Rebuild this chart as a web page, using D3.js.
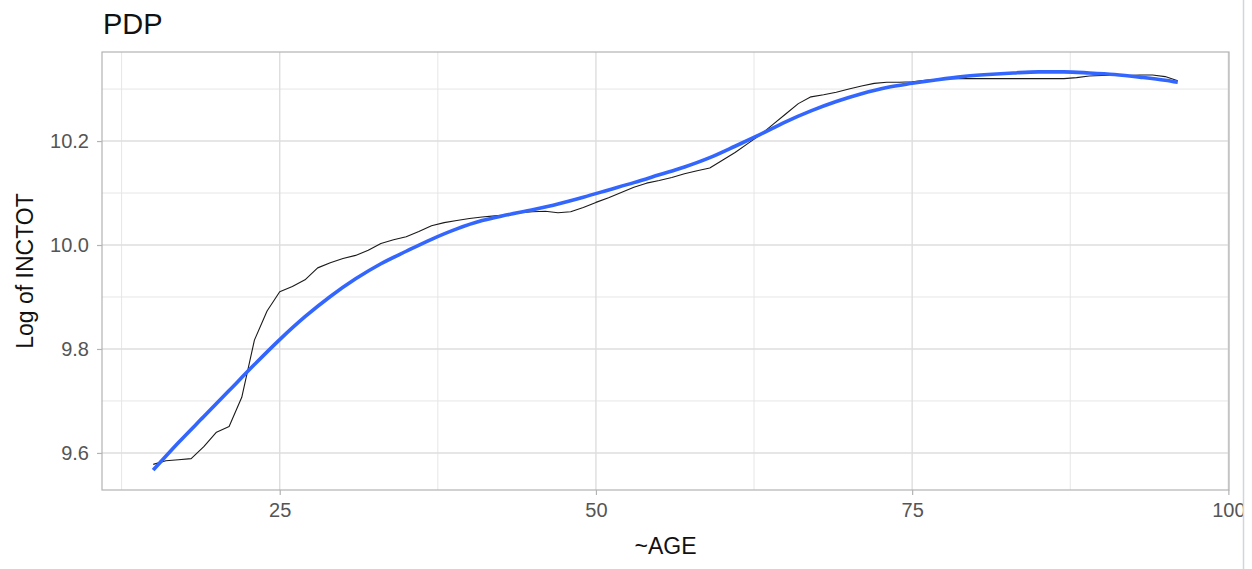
<!DOCTYPE html>
<html>
<head>
<meta charset="utf-8">
<script src="https://cdn.jsdelivr.net/npm/d3@7/dist/d3.min.js"></script>
<style>
  html, body { margin: 0; padding: 0; background: #fff; }
  svg { display: block; font-family: "Liberation Sans", Arial, sans-serif; }
</style>
</head>
<body>
<svg id="chart" width="1252" height="569"></svg>
<script>
// Partial dependence of log income on age
const ages = d3.range(15, 97);
const pdpValues = [
  9.578, 9.585, 9.587, 9.589, 9.612, 9.640, 9.651, 9.707, 9.817, 9.873,
  9.910, 9.920, 9.933, 9.956, 9.966, 9.974, 9.980, 9.990, 10.003, 10.010,
  10.016, 10.026, 10.037, 10.043, 10.047, 10.051, 10.054, 10.056, 10.058, 10.062,
  10.064, 10.065, 10.062, 10.064, 10.072, 10.082, 10.091, 10.101, 10.111, 10.119,
  10.124, 10.130, 10.137, 10.143, 10.148, 10.163, 10.178, 10.195, 10.212, 10.232,
  10.252, 10.272, 10.285, 10.289, 10.294, 10.300, 10.306, 10.311, 10.313, 10.313,
  10.314, 10.317, 10.319, 10.320, 10.320, 10.320, 10.320, 10.320, 10.320, 10.320,
  10.320, 10.320, 10.320, 10.322, 10.325, 10.326, 10.326, 10.326, 10.327, 10.327,
  10.324, 10.316
];

// Smoothed trend through the partial dependence curve
const smoothAges = [15, 17, 19, 21, 23, 25, 27, 29, 31, 33, 35, 37, 39, 41, 43, 45, 47, 49,
  51, 53, 55, 57, 59, 61, 63, 65, 67, 69, 71, 73, 75, 77, 79, 81, 83, 85, 87, 89, 91, 93, 95, 96];
const smoothValues = [9.567, 9.620, 9.670, 9.720, 9.770, 9.818, 9.862, 9.901, 9.935, 9.964,
  9.988, 10.011, 10.031, 10.047, 10.058, 10.068, 10.079, 10.092, 10.106, 10.120,
  10.135, 10.150, 10.168, 10.190, 10.213, 10.237, 10.258, 10.276, 10.291, 10.303,
  10.311, 10.318, 10.324, 10.328, 10.331, 10.333, 10.333, 10.331, 10.328, 10.323,
  10.317, 10.313];

const xMajorTicks = [25, 50, 75, 100];
const xMinorTicks = [12.5, 37.5, 62.5, 87.5];
const yMajorTicks = [9.6, 9.8, 10.0, 10.2];
const yMinorTicks = [9.5, 9.7, 9.9, 10.1, 10.3];

const titleText = "PDP";
const xTitle = "~AGE";
const yTitle = "Log of INCTOT";

const svg = d3.select("#chart");
const panel = { left: 102, right: 1229, top: 52, bottom: 490 };

// Domains padded by 5% of the data range on each side
function padded(lo, hi) {
  const d = (hi - lo) * 0.05;
  return [lo - d, hi + d];
}
const xDomain = padded(d3.min(ages.concat(smoothAges)), d3.max(ages.concat(smoothAges)));
const yAll = pdpValues.concat(smoothValues);
const yDomain = padded(d3.min(yAll), d3.max(yAll));

const x = d3.scaleLinear().domain(xDomain).range([panel.left, panel.right]);
const y = d3.scaleLinear().domain(yDomain).range([panel.bottom, panel.top]);

// Panel background
svg.append("rect")
  .attr("x", panel.left).attr("y", panel.top)
  .attr("width", panel.right - panel.left).attr("height", panel.bottom - panel.top)
  .attr("fill", "#fff");

const grid = svg.append("g");
const inX = v => x(v) >= panel.left && x(v) <= panel.right;
const inY = v => y(v) >= panel.top && y(v) <= panel.bottom;

grid.selectAll(".ymin").data(yMinorTicks.filter(inY)).join("line")
  .attr("x1", panel.left).attr("x2", panel.right)
  .attr("y1", d => y(d)).attr("y2", d => y(d))
  .attr("stroke", "#e6e6e6").attr("stroke-width", 1);
grid.selectAll(".xmin").data(xMinorTicks.filter(inX)).join("line")
  .attr("y1", panel.top).attr("y2", panel.bottom)
  .attr("x1", d => x(d)).attr("x2", d => x(d))
  .attr("stroke", "#e6e6e6").attr("stroke-width", 1);
grid.selectAll(".ymaj").data(yMajorTicks.filter(inY)).join("line")
  .attr("x1", panel.left).attr("x2", panel.right)
  .attr("y1", d => y(d)).attr("y2", d => y(d))
  .attr("stroke", "#dedede").attr("stroke-width", 1.4);
grid.selectAll(".xmaj").data(xMajorTicks.filter(inX)).join("line")
  .attr("y1", panel.top).attr("y2", panel.bottom)
  .attr("x1", d => x(d)).attr("x2", d => x(d))
  .attr("stroke", "#dedede").attr("stroke-width", 1.4);

// Lines
const pdpLine = d3.line().x((d, i) => x(ages[i])).y(d => y(d));
svg.append("path")
  .datum(pdpValues)
  .attr("d", pdpLine)
  .attr("fill", "none")
  .attr("stroke", "#1a1a1a")
  .attr("stroke-width", 1.1)
  .attr("stroke-linejoin", "round");

const smoothLine = d3.line()
  .x((d, i) => x(smoothAges[i])).y(d => y(d))
  .curve(d3.curveMonotoneX);
svg.append("path")
  .datum(smoothValues)
  .attr("d", smoothLine)
  .attr("fill", "none")
  .attr("stroke", "#3366FF")
  .attr("stroke-width", 3.6)
  .attr("stroke-linecap", "butt");

// Panel border
svg.append("rect")
  .attr("x", panel.left).attr("y", panel.top)
  .attr("width", panel.right - panel.left).attr("height", panel.bottom - panel.top)
  .attr("fill", "none").attr("stroke", "#b3b3b3").attr("stroke-width", 1.2);

// Axes
const xAxis = svg.append("g")
  .attr("transform", `translate(0,${panel.bottom})`)
  .call(d3.axisBottom(x).tickValues(xMajorTicks).tickFormat(d3.format("d"))
    .tickSize(5).tickPadding(8).tickSizeOuter(0));
const yAxis = svg.append("g")
  .attr("transform", `translate(${panel.left},0)`)
  .call(d3.axisLeft(y).tickValues(yMajorTicks).tickFormat(d3.format(".1f"))
    .tickSize(5).tickPadding(8).tickSizeOuter(0));

[xAxis, yAxis].forEach(a => {
  a.select(".domain").remove();
  a.selectAll(".tick line").attr("stroke", "#b3b3b3").attr("stroke-width", 1.2);
  a.selectAll(".tick text")
    .attr("fill", "#555")
    .style("font-size", "20px");
});

// Titles
svg.append("text")
  .attr("x", panel.left + 1).attr("y", 34)
  .attr("fill", "#111")
  .style("font-size", "29px")
  .text(titleText);

svg.append("text")
  .attr("x", (panel.left + panel.right) / 2).attr("y", 554)
  .attr("text-anchor", "middle")
  .attr("fill", "#111")
  .style("font-size", "23px")
  .text(xTitle);

svg.append("text")
  .attr("transform", `translate(33,${(panel.top + panel.bottom) / 2}) rotate(-90)`)
  .attr("text-anchor", "middle")
  .attr("fill", "#111")
  .style("font-size", "23px")
  .text(yTitle);

// Right-hand window edge
svg.append("rect")
  .attr("x", 1244).attr("y", 0).attr("width", 8).attr("height", 569)
  .attr("fill", "#fff");
svg.append("line")
  .attr("x1", 1243.5).attr("x2", 1243.5).attr("y1", 0).attr("y2", 569)
  .attr("stroke", "#cfd6e0").attr("stroke-width", 1.5);
</script>
</body>
</html>
